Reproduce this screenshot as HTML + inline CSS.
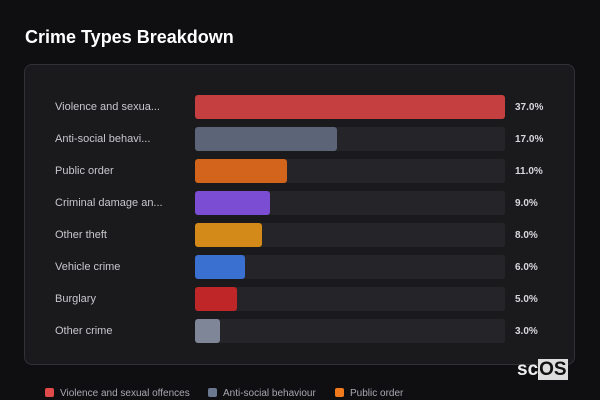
<!DOCTYPE html><html><head><style>
body{margin:0;width:600px;height:400px;background:#0f0f12;font-family:"Liberation Sans",sans-serif;overflow:hidden;position:relative}
h1{position:absolute;left:25px;top:27px;margin:0;font-size:18px;font-weight:bold;color:#fff}
.card{position:absolute;left:24px;top:64px;width:551px;height:301px;background:#1a1a1d;border:1px solid #323236;border-radius:8px;box-sizing:border-box}
.row{position:absolute;left:0;height:24px;width:600px}
.lab{position:absolute;left:55px;top:6px;font-size:11px;color:#c8c8cc}
.tr{position:absolute;left:195px;top:0;width:310px;height:24px;background:#252529;border-radius:3px}
.b{position:absolute;left:0;top:0;height:24px;border-radius:3px}
.p{position:absolute;left:515px;top:7px;font-size:10px;font-weight:bold;color:#d8d8dc}
.leg{position:absolute;top:388px;font-size:10px;color:#a8a8b0}
.sw{display:inline-block;width:9px;height:9px;border-radius:2px;vertical-align:-1px;margin-right:6px}
</style></head><body>
<h1>Crime Types Breakdown</h1>
<div class="card"></div>
<div class="row" style="top:95px"><span class="lab">Violence and sexua...</span><div class="tr"><div class="b" style="width:310px;background:#c63f40"></div></div><span class="p">37.0%</span></div>
<div class="row" style="top:127px"><span class="lab">Anti-social behavi...</span><div class="tr"><div class="b" style="width:142px;background:#5c6577"></div></div><span class="p">17.0%</span></div>
<div class="row" style="top:159px"><span class="lab">Public order</span><div class="tr"><div class="b" style="width:92px;background:#d2641c"></div></div><span class="p">11.0%</span></div>
<div class="row" style="top:191px"><span class="lab">Criminal damage an...</span><div class="tr"><div class="b" style="width:75px;background:#7a4dd2"></div></div><span class="p">9.0%</span></div>
<div class="row" style="top:223px"><span class="lab">Other theft</span><div class="tr"><div class="b" style="width:67px;background:#d38a18"></div></div><span class="p">8.0%</span></div>
<div class="row" style="top:255px"><span class="lab">Vehicle crime</span><div class="tr"><div class="b" style="width:50px;background:#3a70d0"></div></div><span class="p">6.0%</span></div>
<div class="row" style="top:287px"><span class="lab">Burglary</span><div class="tr"><div class="b" style="width:42px;background:#bf2628"></div></div><span class="p">5.0%</span></div>
<div class="row" style="top:319px"><span class="lab">Other crime</span><div class="tr"><div class="b" style="width:25px;background:#7f8698"></div></div><span class="p">3.0%</span></div>
<div style="position:absolute;left:517px;top:359px;font-size:19px;font-weight:bold;color:#eee">sc<span style="background:#ddd;color:#111;padding:0 1px">OS</span></div>
<div class="leg" style="left:45px"><span class="sw" style="background:#e04a4a"></span>Violence and sexual offences</div>
<div class="leg" style="left:208px"><span class="sw" style="background:#6b7890"></span>Anti-social behaviour</div>
<div class="leg" style="left:335px"><span class="sw" style="background:#f07a1c"></span>Public order</div>
</body></html>
